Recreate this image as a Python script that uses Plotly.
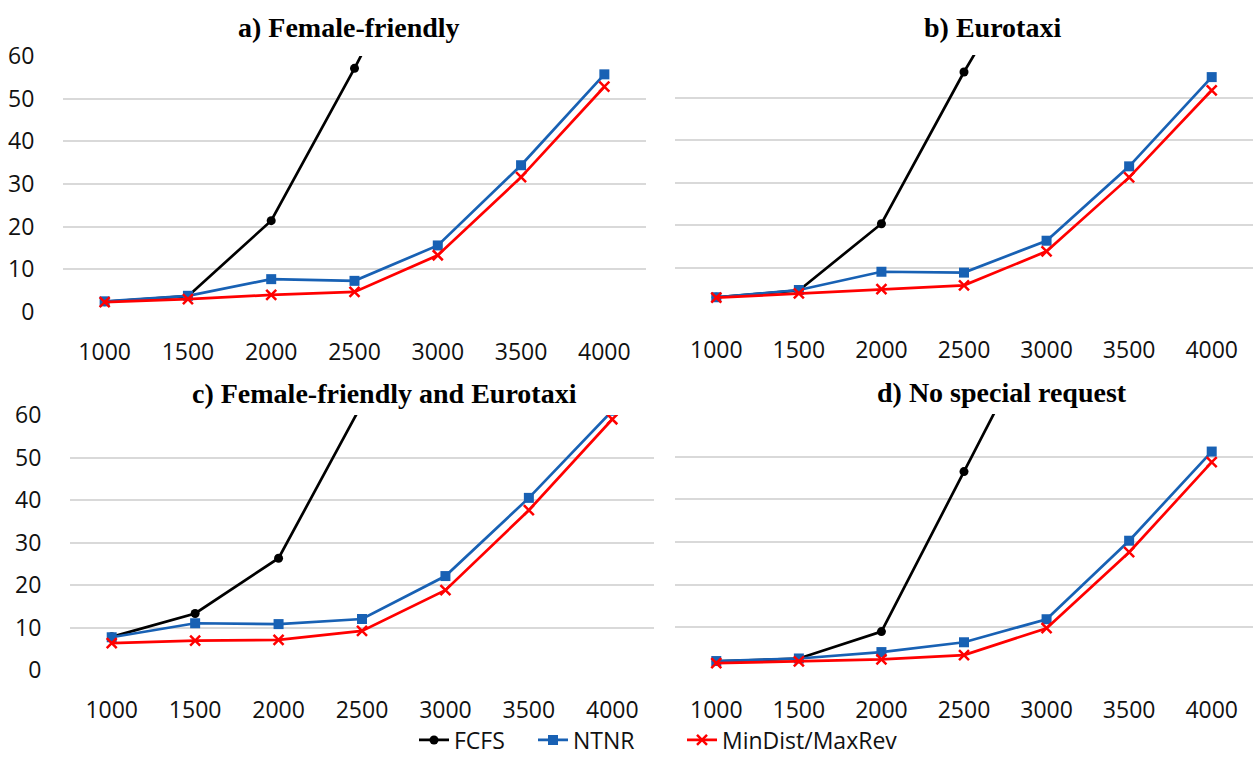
import plotly.graph_objects as go

x_labels = ["1000", "1500", "2000", "2500", "3000", "3500", "4000"]

fcfs_a = [2.4, 3.7, 21.4, 57.1, 95.0, None, None]
ntnr_a = [2.5, 3.8, 7.7, 7.3, 15.6, 34.4, 55.7]
mind_a = [2.3, 3.0, 4.0, 4.7, 13.3, 31.6, 52.8]

fcfs_b = [3.0, 4.6, 20.3, 56.0, 89.0, None, None]
ntnr_b = [3.0, 4.7, 9.0, 8.8, 16.3, 33.8, 54.8]
mind_b = [2.9, 3.9, 4.9, 5.8, 13.8, 31.2, 51.7]

fcfs_c = [7.8, 13.3, 26.3, 62.6, 100.0, None, None]
ntnr_c = [7.7, 11.0, 10.8, 12.0, 22.1, 40.5, 61.0]
mind_c = [6.3, 6.9, 7.1, 9.2, 18.8, 37.6, 59.0]

fcfs_d = [2.0, 2.7, 9.0, 46.5, 84.0, None, None]
ntnr_d = [2.1, 2.7, 4.2, 6.5, 11.9, 30.3, 51.2]
mind_d = [1.6, 2.0, 2.5, 3.5, 9.8, 27.6, 48.7]

titles = ["a) Female-friendly", "b) Eurotaxi", "c) Female-friendly and Eurotaxi", "d) No special request"]
series_names = ["FCFS", "NTNR", "MinDist/MaxRev"]
y_ticks = [0, 10, 20, 30, 40, 50, 60]

W, H = 1253, 759
panels_px = [  # x0, x1, ytop, ybottom (pixels)
    (63, 646, 56, 312),
    (675, 1253, 55, 310),
    (70, 654, 415, 670),
    (675, 1253, 414, 670),
]
title_px = [(349, 28), (992, 28), (384, 393), (1002, 392)]
legend_px = [414, 533, 682]
legend_ids = ["legend", "legend2", "legend3"]

data = [
    (fcfs_a, ntnr_a, mind_a),
    (fcfs_b, ntnr_b, mind_b),
    (fcfs_c, ntnr_c, mind_c),
    (fcfs_d, ntnr_d, mind_d),
]

styles = [
    dict(color="black", symbol="circle", size=9),
    dict(color="#1861B4", symbol="square", size=10),
    dict(color="#FF0000", symbol="x-thin", size=10),
]

fig = go.Figure()
tick_font = dict(family="Open Sans", size=23, color="#111111")
legend_font = dict(family="Open Sans", size=23, color="#111111")

for i, (series, px) in enumerate(zip(data, panels_px)):
    ax = "" if i == 0 else str(i + 1)
    for j, (vals, st) in enumerate(zip(series, styles)):
        marker = dict(color=st["color"], symbol=st["symbol"], size=st["size"])
        if st["symbol"] == "x-thin":
            marker["line"] = dict(color=st["color"], width=2.5)
        fig.add_trace(go.Scatter(
            x=x_labels, y=vals, mode="lines+markers",
            name=series_names[j],
            line=dict(color=st["color"], width=2.7),
            marker=marker,
            showlegend=(i == 0),
            legend=legend_ids[j],
            xaxis="x" + ax, yaxis="y" + ax,
            cliponaxis=True,
            connectgaps=False,
        ))
    x0, x1, yt, yb = px
    show_y = i in (0, 2)
    fig.update_layout(**{
        "xaxis" + ax: dict(
            domain=[x0 / W, x1 / W], anchor="y" + ax,
            type="category", range=[-0.5, 6.5],
            showgrid=False, zeroline=False, showline=False,
            ticks="outside", ticklen=19, tickcolor="rgba(0,0,0,0)",
            tickfont=tick_font, automargin=False,
        ),
        "yaxis" + ax: dict(
            domain=[1 - yb / H, 1 - yt / H], anchor="x" + ax,
            range=[0, 60], tickvals=y_ticks,
            showticklabels=show_y,
            showgrid=True, gridcolor="#d9d9d9", gridwidth=1.8,
            zeroline=False, showline=False,
            ticks="outside", ticklen=23, tickcolor="rgba(0,0,0,0)",
            tickfont=tick_font, automargin=False,
        ),
    })
    tx, ty = title_px[i]
    fig.add_annotation(
        x=tx / W, y=1 - ty / H, xref="paper", yref="paper",
        text="<b>" + titles[i] + "</b>", showarrow=False,
        xanchor="center", yanchor="middle",
        font=dict(family="Liberation Serif", size=28, color="black"),
    )

legend_layout = {}
for lid, lx in zip(legend_ids, legend_px):
    legend_layout[lid] = dict(
        orientation="h", x=lx / W, xanchor="left",
        y=1 - 740 / H, yanchor="middle",
        font=legend_font, itemwidth=30,
        bgcolor="rgba(0,0,0,0)",
    )

fig.update_layout(
    width=W, height=H,
    margin=dict(l=0, r=0, t=0, b=0, autoexpand=False),
    paper_bgcolor="white", plot_bgcolor="white",
    **legend_layout,
)

fig.write_html(
    "out.html",
    config={"displayModeBar": False},
    post_script="document.body.style.margin='0';document.body.style.padding='0';",
)
